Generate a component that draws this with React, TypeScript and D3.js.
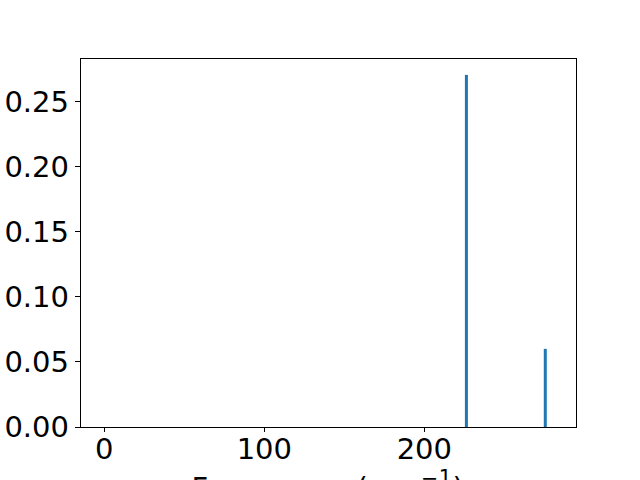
import React from 'react';
import * as d3 from 'd3';

// peak positions (cm^-1) and intensities
const frequencies = [226.3, 275.6];
const intensities = [0.2708, 0.0601];
const xTicks = [0, 100, 200];
const yTicks = [0, 0.05, 0.1, 0.15, 0.2, 0.25];

const width = 640;
const height = 480;
const margin = { left: 80, right: 64, top: 58, bottom: 53 };
const font = 'DejaVu Sans, sans-serif';
const fontSize = 29;

export default function App() {
  const x = d3.scaleLinear()
    .domain([-15.2, 294.8])
    .range([margin.left, width - margin.right]);
  const y = d3.scaleLinear()
    .domain([0, 0.2838])
    .range([height - margin.bottom, margin.top]);

  const x0 = margin.left;
  const x1 = width - margin.right;
  const y0 = height - margin.bottom;
  const y1 = margin.top;

  return (
    <svg width={width} height={height}
         style={{ position: 'absolute', left: 0, top: 0, background: '#fff' }}>
      {frequencies.map((f, i) => (
        <rect key={i} x={x(f) - 1.5} y={y(intensities[i])}
              width={3} height={y(0) - y(intensities[i])} fill="#1f77b4" />
      ))}
      <rect x={x0} y={y1} width={x1 - x0} height={y0 - y1}
            fill="none" stroke="#000" strokeWidth={1} shapeRendering="crispEdges" />
      {xTicks.map(t => (
        <g key={t} transform={`translate(${x(t)},${y0})`}>
          <line y2={4.9} stroke="#000" strokeWidth={1} shapeRendering="crispEdges" />
          <text y={32} textAnchor="middle" fontFamily={font} fontSize={fontSize}>{t}</text>
        </g>
      ))}
      {yTicks.map(t => (
        <g key={t} transform={`translate(${x0},${y(t)})`}>
          <line x2={-4.9} stroke="#000" strokeWidth={1} shapeRendering="crispEdges" />
          <text x={-11} dy="0.36em" textAnchor="end" fontFamily={font} fontSize={fontSize}>
            {d3.format('.2f')(t)}
          </text>
        </g>
      ))}
      <text x={(x0 + x1) / 2} y={498} textAnchor="middle" fontFamily={font} fontSize={fontSize}
            letterSpacing={0.6}>
        Frequency (<tspan fontStyle="italic">cm</tspan><tspan dy={-13} fontSize={20.5}> −1</tspan><tspan dy={13}>)</tspan>
      </text>
    </svg>
  );
}
